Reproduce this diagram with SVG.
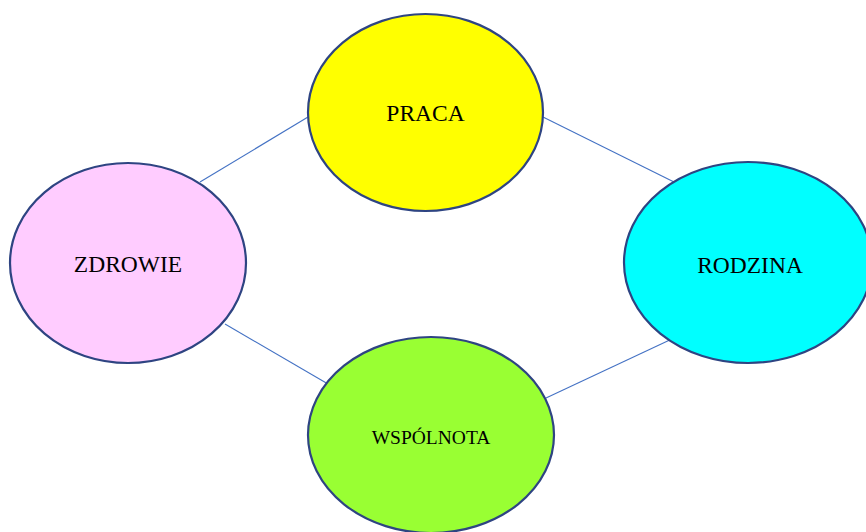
<svg xmlns="http://www.w3.org/2000/svg" width="866" height="532" viewBox="0 0 866 532">
<style>
.n{stroke:#2E4482;stroke-width:2.2}
.t{font-family:"Liberation Serif",serif;fill:#000;text-anchor:middle}
.c{stroke:#4472C4;stroke-width:1.1;fill:none}
</style>
<rect width="866" height="532" fill="#fff"/>
<g id="connectors">
<line class="c" x1="308" y1="117" x2="200" y2="182"/>
<line class="c" x1="543" y1="117" x2="674" y2="182"/>
<line class="c" x1="225" y1="324" x2="328" y2="384"/>
<line class="c" x1="546" y1="398" x2="674" y2="338"/>
</g>
<g id="praca">
<ellipse class="n" cx="425.5" cy="112.5" rx="117.5" ry="98.5" fill="#FFFF00"/>
<text class="t" x="425.5" y="121" font-size="23.5">PRACA</text>
</g>
<g id="zdrowie">
<ellipse class="n" cx="128" cy="263" rx="118" ry="100" fill="#FFCCFF"/>
<text class="t" x="128" y="272" font-size="23.5">ZDROWIE</text>
</g>
<g id="rodzina">
<ellipse class="n" cx="748" cy="262.5" rx="124" ry="100.5" fill="#00FFFF"/>
<text class="t" x="750" y="273" font-size="23.5">RODZINA</text>
</g>
<g id="wspolnota">
<ellipse class="n" cx="431" cy="435" rx="123" ry="98" fill="#99FF33"/>
<text class="t" x="431" y="444" font-size="19.5">WSPÓLNOTA</text>
</g>
</svg>
